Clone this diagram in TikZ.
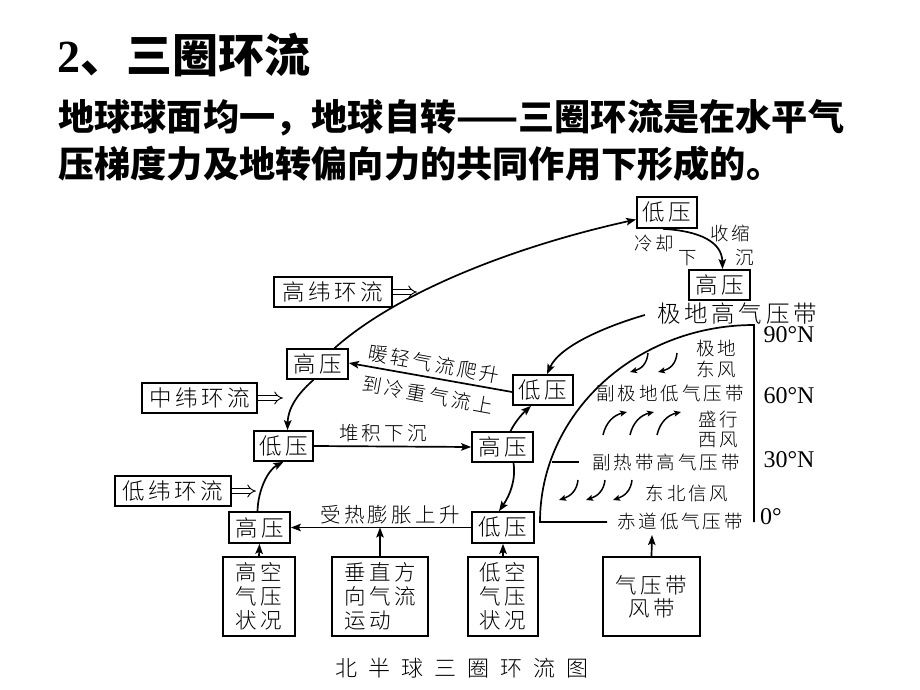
\documentclass[tikz,border=0pt]{standalone}
\usepackage{fontspec}
\usetikzlibrary{arrows.meta}
\newfontfamily\cjk{Noto Sans CJK SC}
\IfFontExistsTF{Noto Sans CJK SC Light}{%
  \newfontfamily\dg{Noto Sans CJK SC Light}[LetterSpace=16]
  \newfontfamily\dgw{Noto Sans CJK SC Light}[LetterSpace=50]}{%
  \newfontfamily\dg{Noto Sans CJK SC}[LetterSpace=16]
  \newfontfamily\dgw{Noto Sans CJK SC}[LetterSpace=50]}
\newfontfamily\tnr{Liberation Serif}
\newcommand\fsz[1]{\fontsize{#1}{#1}\selectfont}
\begin{document}
\begin{tikzpicture}[x=1pt,y=-1pt,
  bx/.style={draw, line width=1.7pt, inner sep=0pt, minimum height=30pt, font=\dg\fsz{22.5}},
  lb/.style={inner sep=0pt, font=\dg\fsz{19.5}},
  sm/.style={inner sep=0pt, font=\dg\fsz{18.5}},
  lat/.style={inner sep=0pt, text height=15pt, text depth=0pt, font=\tnr\fsz{24}},
  ar/.style={line width=1.7pt, -{Stealth[length=10pt,width=7.5pt,inset=2pt]}},
  wnd/.style={line width=1.5pt, -{Stealth[length=7pt,width=6pt,inset=1.5pt]}},
  dbl/.style={line width=0.9pt, double distance=3.6pt, -{Implies}},
  outl/.style={line width=1.7pt}]
\fill[white] (0,0) rectangle (920,690);
\useasboundingbox (0,0) rectangle (920,690);

% header
\node[anchor=west, inner sep=0pt] (title) at (57,55) {\bfseries\tnr\fsz{46}2\cjk 、三圈环流};
\node[anchor=west, inner sep=0pt] (body1) at (58,118) {\cjk\bfseries\fsz{36.2}地球球面均一，地球自转——三圈环流是在水平气};
\node[anchor=west, inner sep=0pt] (body2) at (58,164) {\cjk\bfseries\fsz{36.2}压梯度力及地转偏向力的共同作用下形成的。};

% boxes
\node[bx, minimum width=60pt, minimum height=31pt] (L1) at (667,212.5) {低压};
\node[bx, minimum width=61pt] (H1) at (719.5,285) {高压};
\node[bx, minimum width=118pt] (gw) at (333,292) {高纬环流};
\node[bx, minimum width=61pt] (H2) at (317.5,364) {高压};
\node[bx, minimum width=60pt] (L2) at (543,390) {低压};
\node[bx, minimum width=115pt] (zw) at (199.5,398) {中纬环流};
\node[bx, minimum width=59pt] (L3) at (283.5,446) {低压};
\node[bx, minimum width=61pt] (H3) at (502.5,447) {高压};
\node[bx, minimum width=116pt] (dw) at (173,491) {低纬环流};
\node[bx, minimum width=61pt, minimum height=31pt] (H4) at (259.5,527.5) {高压};
\node[bx, minimum width=62pt, minimum height=31pt] (L4) at (503,527.5) {低压};

\node[bx, minimum width=72pt, minimum height=79pt, align=center, font=\dg\fontsize{21.5}{24}\selectfont] (b1) at (259,596.5) {高空\\气压\\状况};
\node[bx, minimum width=96pt, minimum height=79pt, align=left, font=\dg\fontsize{21.5}{24}\selectfont] (b2) at (380,596.5) {垂直方\\向气流\\运动};
\node[bx, minimum width=70pt, minimum height=79pt, align=center, font=\dg\fontsize{21.5}{24}\selectfont] (b3) at (503,596.5) {低空\\气压\\状况};
\node[bx, minimum width=97pt, minimum height=79pt, align=center, font=\dg\fontsize{21.5}{23}\selectfont] (b4) at (651.5,596.5) {气压带\\风带};

% double arrows
\draw[dbl] (gw.east) -- ++(24,0);
\draw[dbl] (zw.east) -- ++(25,0);
\draw[dbl] (dw.east) -- ++(24,0);

% labels
\node[sm] (t1) at (654,243) {冷却};
\node[sm] (t2) at (688,258) {下};
\node[sm] (t3) at (730,233) {收缩};
\node[sm] (t4) at (745,258) {沉};
\node[lb, rotate=-10.4] (t5) at (434,364) {暖轻气流爬升};
\node[lb, rotate=-10.4] (t6) at (428,395) {到冷重气流上};
\node[lb] (t7) at (383,433) {堆积下沉};
\node[lb, font=\dg\fsz{20.5}] (t8) at (390,515) {受热膨胀上升};

% polar diagram
\node[inner sep=0pt, text depth=0pt, font=\dg\fsz{23.5}] (ph) at (737,313) {极地高气压带};
\draw[outl] (607,522) -- (540,522) .. controls (540,413) and (636,325) .. (754,325) -- (754,522);
\draw[line width=1.5pt] (552,462) -- (579,462);
\node[lat] (n90) at (789,335) {90°N};
\node[lat] (n60) at (789,396) {60°N};
\node[lat] (n30) at (789,460) {30°N};
\node[lat, anchor=west] (n0) at (760,517) {0°};
\node[sm, align=center, font=\dg\fontsize{18.5}{21}\selectfont] (pe) at (716,358.5) {极地\\东风};
\node[sm] (spl) at (670,393) {副极地低气压带};
\node[sm, align=center, font=\dg\fontsize{18.5}{19.5}\selectfont] (we) at (718,429.5) {盛行\\西风};
\node[sm] (sth) at (666,462) {副热带高气压带};
\node[sm] (tw) at (687,493) {东北信风};
\node[sm] (eq) at (680,521) {赤道低气压带};

% wind arrows
\draw[wnd] (648,353) .. controls (647,364) and (641,369) .. (630,372);
\draw[wnd] (677,353) .. controls (676,364) and (670,369) .. (658,372);
\draw[wnd] (603,435) .. controls (606,422) and (614,415) .. (627,412);
\draw[wnd] (630,435) .. controls (633,422) and (641,415) .. (654,412);
\draw[wnd] (657,435) .. controls (660,422) and (668,415) .. (681,412);
\draw[wnd] (578,480) .. controls (577,490) and (571,496) .. (559,500);
\draw[wnd] (605,480) .. controls (604,490) and (598,496) .. (586,500);
\draw[wnd] (632,480) .. controls (631,490) and (625,496) .. (613,500);

% connectors
\draw[ar] ([xshift=-4pt]L1.south) .. controls (700,231) and (722,242) .. ([xshift=3pt]H1.north);
\draw[ar] ([xshift=17pt]H2.north) .. controls (400,290) and (520,245) .. ([yshift=-7pt]L1.west);
\draw[ar] ([xshift=-12pt,yshift=-2pt]ph.west) .. controls (610,325) and (560,345) .. ([xshift=4pt]L2.north);
\draw[ar] ([yshift=-2pt]L2.west) -- ([yshift=1pt]H2.east);
\draw[ar] ([xshift=-4pt]H2.south) .. controls (302,390) and (288,405) .. ([xshift=4pt]L3.north);
\draw[ar] (L3.east) -- (H3.west);
\draw[ar] ([xshift=8pt]H3.north) .. controls (515,422) and (522,414) .. ([xshift=-12pt]L2.south);
\draw[ar] ([xshift=11pt]H3.south) .. controls (516,480) and (510,495) .. ([xshift=-4pt]L4.north);
\draw[ar] (L4.west) -- (H4.east);
\draw[ar] ([xshift=-2pt]H4.north) .. controls (258,490) and (268,470) .. (L3.south);
\draw[ar] (b1.north) -- (H4.south);
\draw[ar] (b2.north) -- (b2.north |- H4.east);
\draw[ar] (b3.north) -- (L4.south);
\coordinate (eqp) at (652,535);
\draw[ar] (b4.north) -- (eqp);

% caption
\node[inner sep=0pt, font=\dgw\fsz{22}] (cap) at (462,668) {北半球三圈环流图};
\end{tikzpicture}
\end{document}
